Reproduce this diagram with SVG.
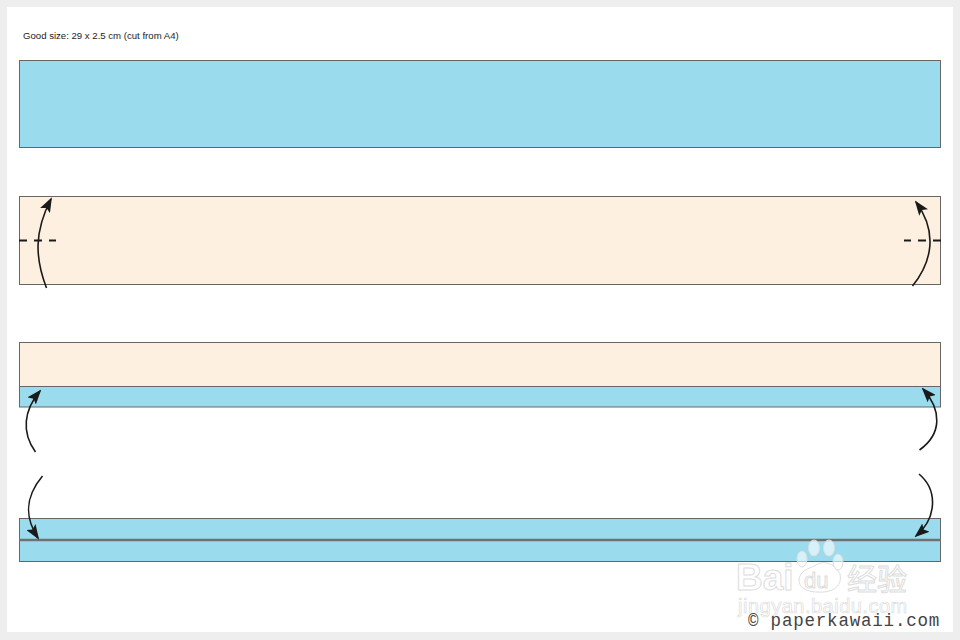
<svg xmlns="http://www.w3.org/2000/svg" width="960" height="640" viewBox="0 0 960 640">
<style>
.blue{fill:#9adcee;stroke:#666;stroke-width:1}
.cream{fill:#fdf0e0;stroke:#666;stroke-width:1}
.arc{fill:none;stroke:#1a1a1a;stroke-width:1.6;marker-end:url(#head)}
.fold{fill:none;stroke:#1a1a1a;stroke-width:1.8;stroke-dasharray:8 7}
.label{font-family:"Liberation Sans",Arial,sans-serif;font-size:9.600px;fill:#222}
.mark{font-family:"Liberation Sans",Arial,"Noto Sans CJK SC",sans-serif;fill:#fff;fill-opacity:.55;stroke:#ddd;stroke-width:1}
.copy{font-family:"Liberation Mono","Courier New",monospace;font-size:17.500px;letter-spacing:.8px;fill:#444}
</style>
<defs>
<marker id="head" viewBox="0 0 15 11" refX="13" refY="5.500" markerWidth="15" markerHeight="11" markerUnits="userSpaceOnUse" orient="auto">
<path d="M0 0L15 5.500L0 11L3 5.500Z" fill="#1a1a1a"/>
</marker>
</defs>
<rect width="960" height="640" fill="#eeeeee"/>
<rect x="7" y="7" width="946" height="625" fill="#fff"/>
<text class="label" x="23" y="39">Good size: 29 x 2.5 cm (cut from A4)</text>
<g id="strip-1"><rect class="blue" x="19.500" y="60.500" width="921" height="87"/></g>
<g id="strip-2"><rect class="cream" x="19.500" y="196.500" width="921" height="88"/></g>
<g id="strip-3">
<rect class="blue" x="19.500" y="386.500" width="921" height="20.500"/>
<rect class="cream" x="19.500" y="342.500" width="921" height="44"/>
</g>
<g id="strip-4">
<rect class="blue" x="19.500" y="518.500" width="921" height="43"/>
<line x1="19" y1="540" x2="941" y2="540" stroke="#707070" stroke-width="2.500"/>
</g>
<g id="connectors">
<path class="fold" d="M19 240.500H56"/>
<path class="fold" d="M941 240.500H904"/>
<path class="arc" d="M46.500 288C35 258 34 232 51 199"/>
<path class="arc" d="M912.500 286C932 262 938 232 916 202"/>
<path class="arc" d="M35.500 452C21 432 24 410 40 391"/>
<path class="arc" d="M919.500 450C942 434 942 410 923 389"/>
<path class="arc" d="M42.500 476C24 498 25 518 38 538"/>
<path class="arc" d="M919 474C938 490 937 518 916 536"/>
</g>
<g id="watermark">
<text class="mark" x="736" y="590" font-size="37" font-weight="bold">Bai</text>
<path d="M814 566C826 558 836 566 840 574C843 588 830 593 818 592C805 592 796 586 800 576C803 570 808 569 814 566Z" fill="#fff" fill-opacity=".55" stroke="#ddd"/>
<text class="mark" x="804" y="588" font-size="22">du</text>
<text class="mark" x="847" y="590" font-size="30">经验</text>
<text class="mark" x="738" y="613" font-size="20" style="stroke-width:.7;letter-spacing:.5px">jingyan.baidu.com</text>
<g fill="#fff" fill-opacity=".6" stroke="#ddd">
<ellipse cx="814" cy="548" rx="5.500" ry="8"/>
<ellipse cx="829" cy="548" rx="5.500" ry="8"/>
<ellipse cx="802" cy="559" rx="5" ry="8"/>
<ellipse cx="838" cy="562" rx="5" ry="8"/>
</g>
</g>
<text class="copy" x="748" y="626">© paperkawaii.com</text>
</svg>
